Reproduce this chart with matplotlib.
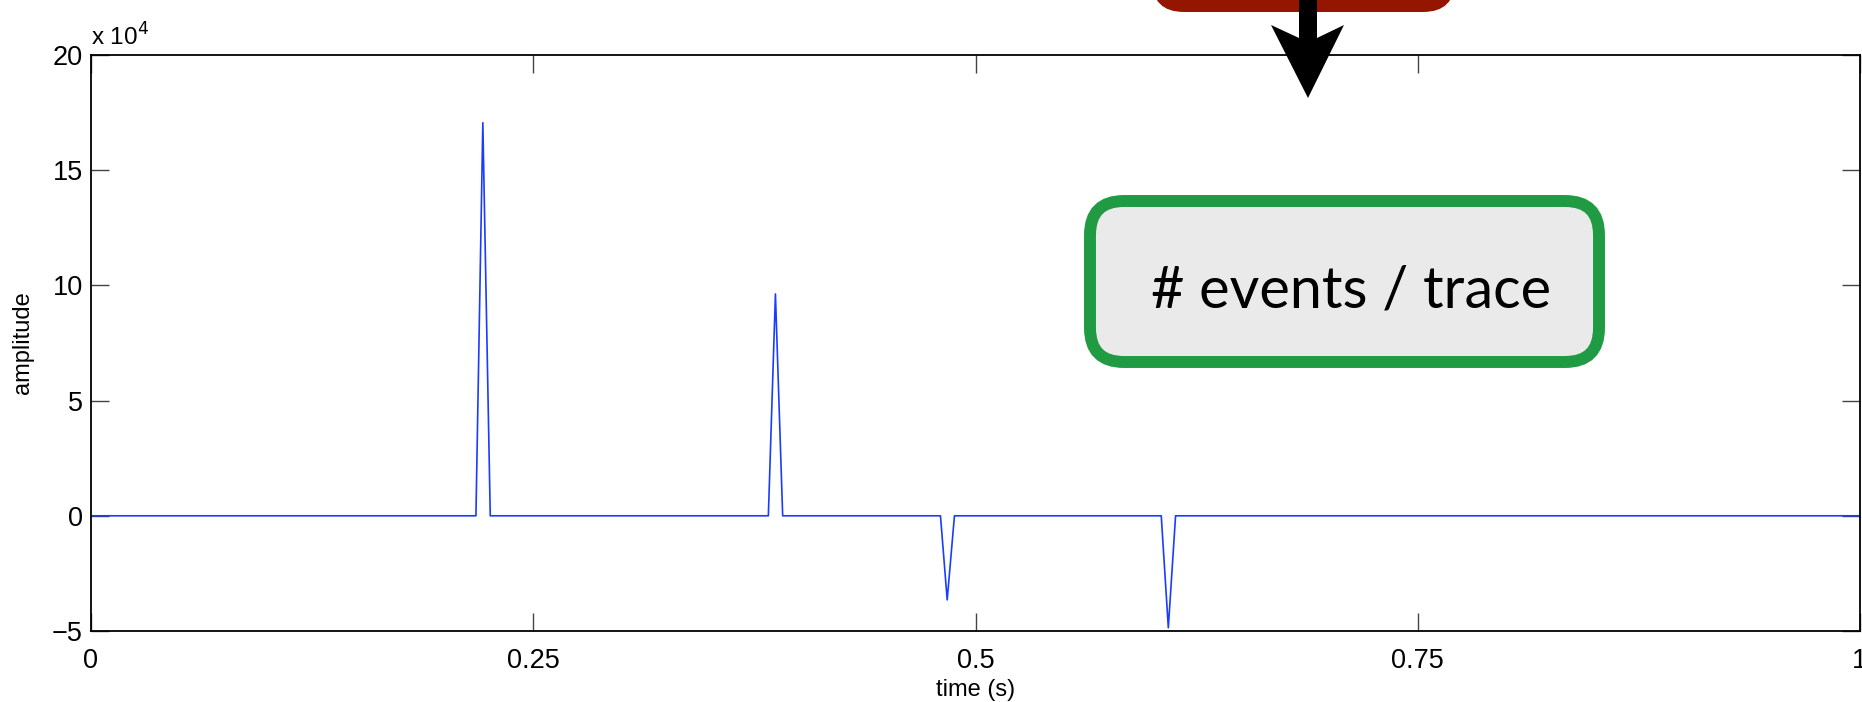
import matplotlib
matplotlib.use("Agg")
import matplotlib.pyplot as plt
from matplotlib.patches import FancyBboxPatch, Polygon

# Trace breakpoints: flat baseline with four short events
time_s = [0.0, 0.2176, 0.2215, 0.2257, 0.3829, 0.3869, 0.3910,
          0.4802, 0.4840, 0.4881, 0.6050, 0.6090, 0.6131, 1.0]
amplitude = [0, 0, 170600, 0, 0, 96300, 0,
             0, -36500, 0, 0, -48600, 0, 0]

x_ticks = [0, 0.25, 0.5, 0.75, 1]
x_tick_labels = ["0", "0.25", "0.5", "0.75", "1"]
y_ticks = [-50000, 0, 50000, 100000, 150000, 200000]
y_tick_labels = ["\u22125", "0", "5", "10", "15", "20"]

W, H = 1862, 702
plt.rcParams["font.family"] = ["Liberation Sans", "DejaVu Sans"]
fig = plt.figure(figsize=(W / 100, H / 100), dpi=100)

ax = fig.add_axes([91 / W, 71 / H, (1860 - 91) / W, (631 - 55) / H])
ax.plot(time_s, amplitude, color="#1a3cff", lw=1.2)
ax.set_xlim(0, 1)
ax.set_ylim(-50000, 200000)
ax.set_xticks(x_ticks)
ax.set_xticklabels(x_tick_labels)
ax.set_yticks(y_ticks)
ax.set_yticklabels(y_tick_labels)
ax.tick_params(direction="in", length=13, width=1, color="#444444",
               labelsize=19.5, top=True, right=True, pad=6)
ax.tick_params(axis="x", pad=12)
for s in ax.spines.values():
    s.set_linewidth(1.3)
ax.set_xlabel("time (s)", fontsize=17, labelpad=4)
ax.set_ylabel("amplitude", fontsize=17, labelpad=13)

# Overlay in pixel units for the annotations (y grows downward)
ov = fig.add_axes([0, 0, 1, 1], facecolor="none")
ov.set_xlim(0, W)
ov.set_ylim(H, 0)
ov.axis("off")

ov.text(91, 46, r"x 10$^{4}$", fontsize=17.5, ha="left", va="baseline")

# Red label box running off the top edge, with a downward arrow
red = FancyBboxPatch((1152, -80), 1455 - 1152, 92,
                     boxstyle="round,pad=0,rounding_size=32",
                     facecolor="#941600", edgecolor="none", clip_on=False)
ov.add_patch(red)
arrow_pts = [(1299, 0), (1317, 0), (1317, 38), (1344, 25),
             (1308, 98), (1271, 25), (1299, 38)]
ov.add_patch(Polygon(arrow_pts, closed=True, facecolor="black",
                     edgecolor="none"))

# Green rounded callout
gx0, gy0, gx1, gy1 = 1090, 201, 1599, 362
green = FancyBboxPatch((gx0, gy0), gx1 - gx0, gy1 - gy0,
                       boxstyle="round,pad=0,rounding_size=34",
                       facecolor="#eaeaea", edgecolor="#219b43",
                       linewidth=8.6)
ov.add_patch(green)
ov.text(1351, 291, "# events / trace", fontsize=41.5,
        family=["Lato", "DejaVu Sans"], ha="center", va="center")

fig.savefig("out.png", dpi=100)
